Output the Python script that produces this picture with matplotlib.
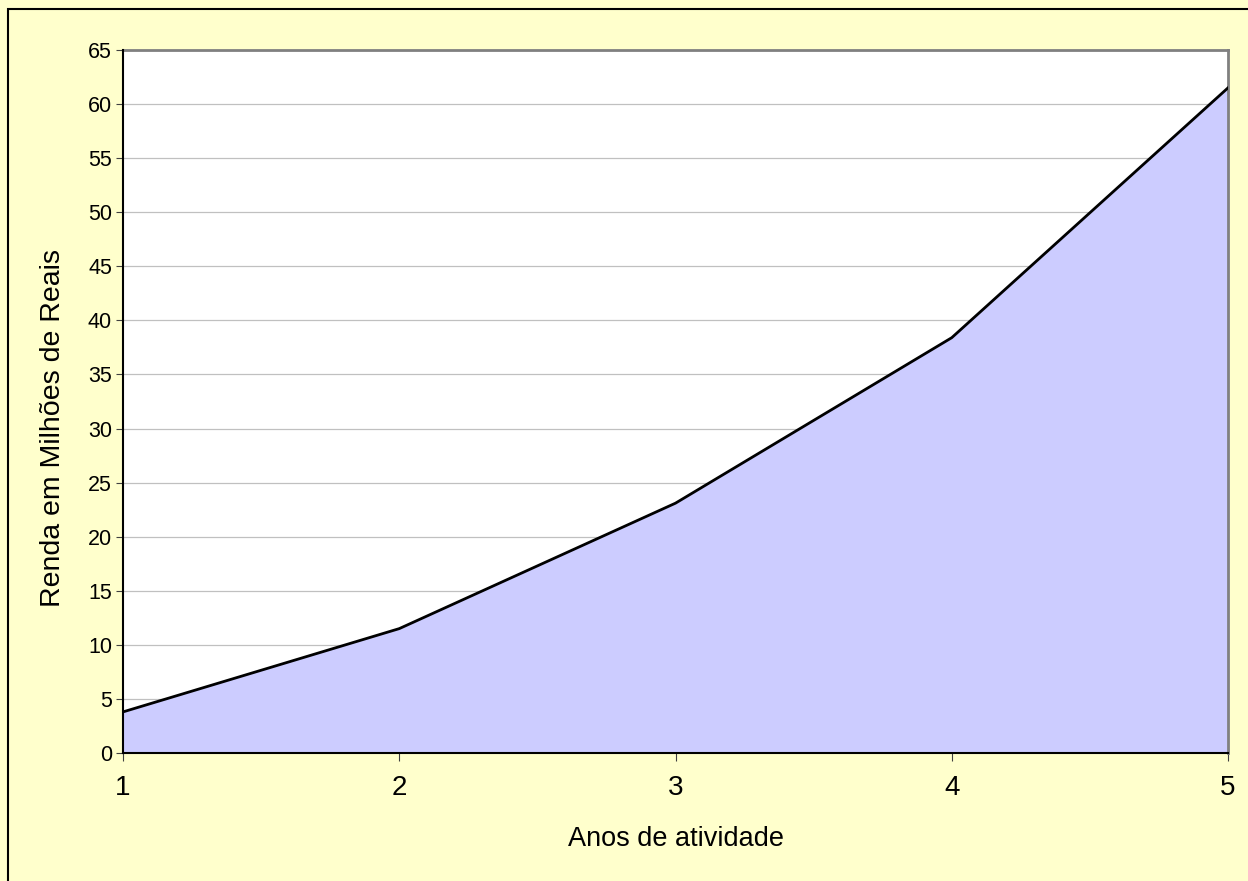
# Renda acumulada por anos de atividade - area chart

import matplotlib
matplotlib.use('Agg')
import matplotlib.pyplot as plt
import matplotlib.patches as patches

anos = [1, 2, 3, 4, 5]
renda = [3.8, 11.5, 23.1, 38.4, 61.5]
y_ticks = list(range(0, 70, 5))

plt.rcParams['font.family'] = ['Liberation Sans', 'DejaVu Sans']

fig = plt.figure(figsize=(12.48, 8.81), dpi=100)
fig.patch.set_facecolor('#FFFFCC')

# borda da figura (so esquerda e topo aparecem)
border = patches.Rectangle((8/1248, -0.1), 1.2, 1 - 9/881 + 0.1, transform=fig.transFigure,
                           fill=False, edgecolor='black', linewidth=1.5, clip_on=False)
fig.patches.append(border)

ax = fig.add_axes([123/1248, 1 - 753/881, (1228 - 123)/1248, (753 - 50)/881])
ax.set_facecolor('white')

ax.fill_between(anos, renda, 0, color='#CCCCFF', linewidth=0, zorder=2)
ax.plot(anos, renda, color='black', linewidth=2.0, zorder=3)

ax.set_xlim(1, 5)
ax.set_ylim(0, 65)
ax.set_yticks(y_ticks)
ax.set_xticks(anos)
ax.grid(axis='y', color='#C0C0C0', linewidth=0.9, zorder=1)
ax.set_axisbelow(True)

for s in ['top', 'right']:
    ax.spines[s].set_color('#808080')
    ax.spines[s].set_linewidth(2)
for s in ['left', 'bottom']:
    ax.spines[s].set_color('black')
    ax.spines[s].set_linewidth(1.5)
    ax.spines[s].set_zorder(4)

ax.tick_params(axis='y', direction='out', length=5, width=0.8, color='#404040', labelsize=15.5, pad=3)
ax.tick_params(axis='x', direction='out', length=6, width=0.8, color='#404040', labelsize=20, pad=10)

ax.set_xlabel('Anos de atividade', fontsize=19.5, labelpad=18)
ax.set_ylabel('Renda em Milhões de Reais', fontsize=20.5)
ax.yaxis.set_label_coords(-0.052, 0.462)

plt.savefig('out.png', dpi=100, facecolor=fig.get_facecolor())
